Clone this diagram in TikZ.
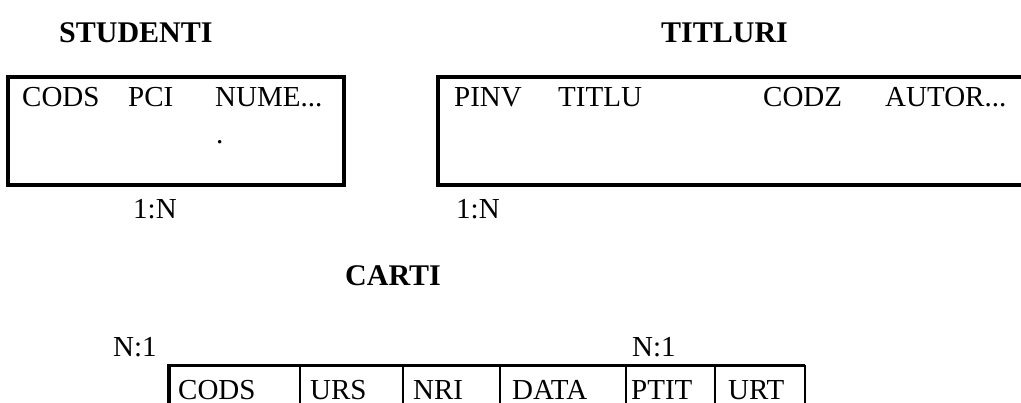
\documentclass[tikz,border=0pt]{standalone}
\usepackage{fontspec}
\setmainfont{Liberation Serif}
\tikzset{
  lbl/.style={anchor=base west, inner sep=0pt, font=\fontsize{29}{32}\selectfont},
  ttl/.style={anchor=base west, inner sep=0pt, font=\fontsize{30}{33}\selectfont\bfseries},
  thickbox/.style={draw, line width=4.5pt},
}
\begin{document}
\begin{tikzpicture}[x=1pt,y=-1pt]
\clip (0,0) rectangle (1021,402);
\fill[white] (0,0) rectangle (1021,402);
% titles
\node[ttl] (tstud) at (59,42) {STUDENTI};
\node[ttl] (ttitl) at (661,42) {TITLURI};
\node[ttl] (tcart) at (345,285) {CARTI};
% STUDENTI box
\draw[thickbox] (8,77) rectangle (344,185);
\node[lbl] (s1) at (22,106) {CODS};
\node[lbl] (s2) at (128,106) {PCI};
\node[lbl] (s3) at (215,106) {NUME...};
\node[lbl] (s4) at (216,143) {.};
% TITLURI box
\draw[thickbox] (438,77) rectangle (1040,185);
\node[lbl] (t1) at (454,106) {PINV};
\node[lbl] (t2) at (558,106) {TITLU};
\node[lbl] (t3) at (763,106) {CODZ};
\node[lbl] (t4) at (885,106) {AUTOR...};
% cardinalities
\node[lbl] (c1) at (133,218) {1:N};
\node[lbl] (c2) at (456,218) {1:N};
\node[lbl] (c3) at (113,356) {N:1};
\node[lbl] (c4) at (632,356) {N:1};
% CARTI table
\draw[line width=3pt] (169,365) -- (805,365);
\draw[line width=4pt] (169,364) -- (169,410);
\foreach \xx in {300,403,500,626,715,805}
  \draw[line width=2pt] (\xx,365) -- (\xx,410);
\node[lbl] (k1) at (178,399) {CODS};
\node[lbl] (k2) at (310,399) {URS};
\node[lbl] (k3) at (413,399) {NRI};
\node[lbl] (k4) at (512,399) {DATA};
\node[lbl] (k5) at (631,399) {PTIT};
\node[lbl] (k6) at (728,399) {URT};
\end{tikzpicture}
\end{document}
